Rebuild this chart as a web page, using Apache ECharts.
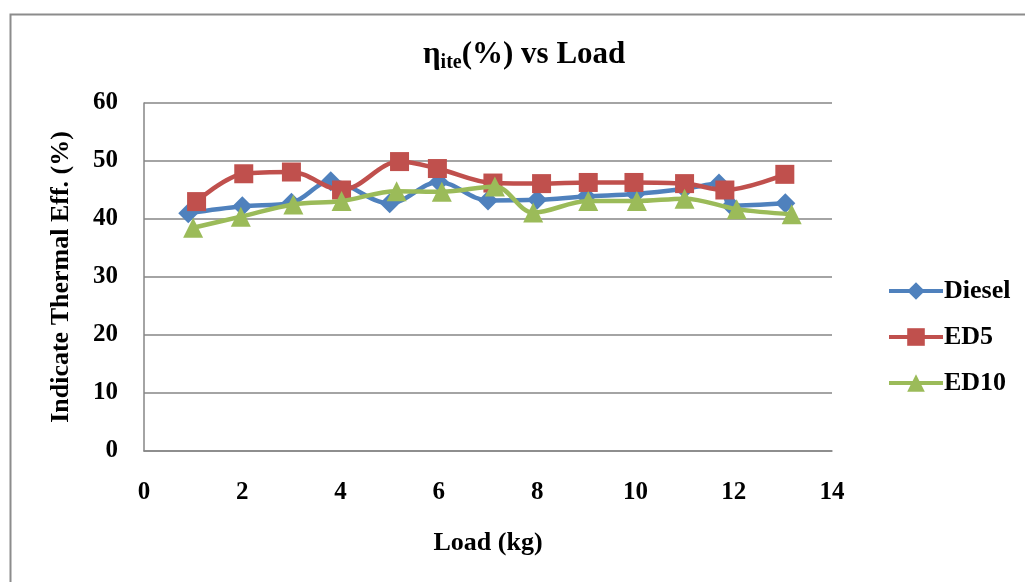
<!DOCTYPE html>
<html>
<head>
<meta charset="utf-8">
<script src="https://cdn.jsdelivr.net/npm/echarts@6/dist/echarts.min.js"></script>
<style>
html,body{margin:0;padding:0;background:#fff;}
#c{width:1025px;height:582px;}
</style>
</head>
<body>
<div id="c"></div>
<script>
var seriesNames = ['Diesel', 'ED5', 'ED10'];
var dieselX = [0.9, 2, 3, 3.8, 5, 6, 7, 8, 9, 10, 11, 11.7, 11.95, 13.05];
var dieselY = [41.0, 42.2, 42.8, 46.5, 42.7, 46.4, 43.2, 43.3, 43.9, 44.3, 45.2, 46.1, 42.3, 42.7];
var ed5X = [1.07, 2.03, 3.0, 4.02, 5.2, 5.97, 7.1, 8.09, 9.04, 9.97, 11.0, 11.82, 13.04];
var ed5Y = [43.0, 47.8, 48.1, 45.0, 49.9, 48.7, 46.2, 46.1, 46.3, 46.3, 46.1, 45.0, 47.7];
var ed10X = [1.0, 1.97, 3.04, 4.02, 5.14, 6.06, 7.14, 7.92, 9.04, 10.03, 11.0, 12.06, 13.18];
var ed10Y = [38.5, 40.4, 42.5, 43.1, 44.8, 44.7, 45.6, 41.1, 43.1, 43.1, 43.5, 41.7, 40.8];
var xTicks = [0, 2, 4, 6, 8, 10, 12, 14];
var yTicks = [0, 10, 20, 30, 40, 50, 60];

function pairs(xs, ys) { return xs.map(function (x, i) { return [x, ys[i]]; }); }

var font = 'Liberation Serif, Times New Roman, serif';
var chart = echarts.init(document.getElementById('c'));
chart.setOption({
  backgroundColor: '#fff',
  animation: false,
  graphic: [{
    type: 'rect', left: 8, top: 12,
    shape: { width: 1100, height: 700 },
    style: { fill: 'none', stroke: '#8c8c8c', lineWidth: 2 }
  }],
  title: {
    text: '{a|η}{b|ite}{a|(%) vs Load}',
    left: 418, top: 32,
    textStyle: {
      rich: {
        a: { fontFamily: font, fontWeight: 'bold', fontSize: 31, color: '#000', lineHeight: 36 },
        b: { fontFamily: font, fontWeight: 'bold', fontSize: 20, color: '#000', lineHeight: 20, verticalAlign: 'bottom', padding: [16, 0, 0, 0] }
      }
    }
  },
  legend: {
    orient: 'vertical',
    left: 887, top: 278, padding: 0,
    itemWidth: 54, itemHeight: 22, itemGap: 20,
    lineStyle: { width: 4 },
    textStyle: { fontFamily: font, fontWeight: 'bold', fontSize: 26, color: '#000', padding: [0, 0, 0, -4] },
    data: seriesNames
  },
  grid: { left: 144, right: 193, top: 103, bottom: 131, containLabel: false },
  xAxis: {
    type: 'value', min: 0, max: 14, interval: 2,
    name: 'Load (kg)', nameLocation: 'middle', nameGap: 79,
    nameTextStyle: { fontFamily: font, fontWeight: 'bold', fontSize: 26, color: '#000' },
    axisLine: { show: true, lineStyle: { color: '#868686', width: 1.5 } },
    axisTick: { show: false },
    splitLine: { show: false },
    axisLabel: { fontFamily: font, fontWeight: 'bold', fontSize: 25, color: '#000', margin: 29,
      formatter: function (v) { return xTicks.indexOf(v) >= 0 ? String(v) : ''; } }
  },
  yAxis: {
    type: 'value', min: 0, max: 60, interval: 10,
    name: 'Indicate Thermal Eff. (%)', nameLocation: 'middle', nameGap: 70,
    nameTextStyle: { fontFamily: font, fontWeight: 'bold', fontSize: 26, color: '#000' },
    axisLine: { show: true, lineStyle: { color: '#868686', width: 1.5 } },
    axisTick: { show: false },
    splitLine: { show: true, lineStyle: { color: '#868686', width: 1.5 } },
    axisLabel: { fontFamily: font, fontWeight: 'bold', fontSize: 25, color: '#000', margin: 26,
      formatter: function (v) { return yTicks.indexOf(v) >= 0 ? String(v) : ''; } }
  },
  series: [
    { name: 'Diesel', type: 'line', smooth: 0.35, data: pairs(dieselX, dieselY),
      symbol: 'diamond', symbolSize: 20, color: '#4F81BD',
      lineStyle: { width: 4.5, color: '#4F81BD' }, itemStyle: { color: '#4F81BD' }, z: 2 },
    { name: 'ED5', type: 'line', smooth: 0.35, data: pairs(ed5X, ed5Y),
      symbol: 'rect', symbolSize: 19, color: '#C0504D',
      lineStyle: { width: 4.5, color: '#C0504D' }, itemStyle: { color: '#C0504D' }, z: 3 },
    { name: 'ED10', type: 'line', smooth: 0.35, data: pairs(ed10X, ed10Y),
      symbol: 'triangle', symbolSize: 20, color: '#9BBB59',
      lineStyle: { width: 4.5, color: '#9BBB59' }, itemStyle: { color: '#9BBB59' }, z: 4 }
  ]
});
</script>
</body>
</html>
